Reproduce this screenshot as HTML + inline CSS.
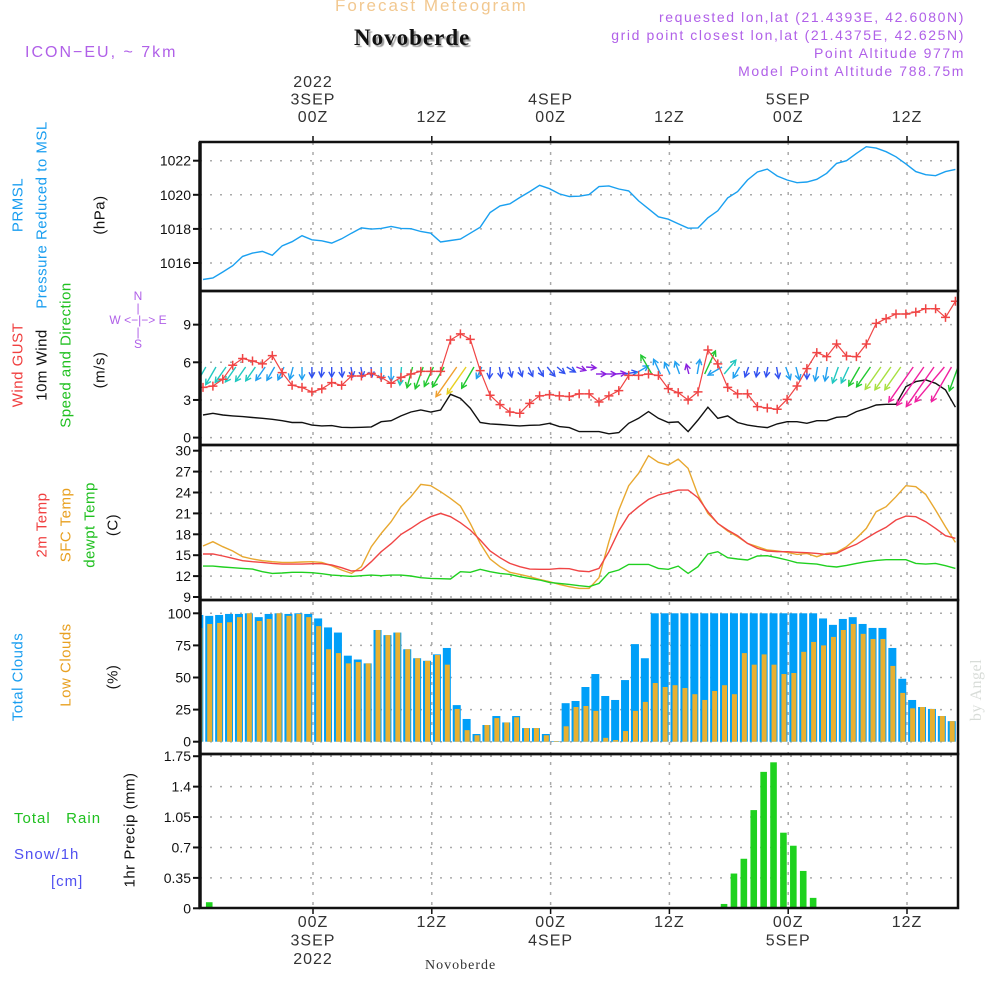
<!DOCTYPE html>
<html><head><meta charset="utf-8">
<style>
html,body{margin:0;padding:0;background:#fff;}
#wrap{position:relative;width:1000px;height:1000px;overflow:hidden;font-family:"Liberation Sans",sans-serif;}
.t{position:absolute;white-space:nowrap;}
.rot{position:absolute;white-space:nowrap;transform:translate(-50%,-50%) rotate(-90deg);font-size:15px;letter-spacing:0.5px;}
</style></head>
<body>
<div id="wrap">
<div class="t" style="left:335px;top:-4px;font-size:17px;color:#f2c890;letter-spacing:2px;">Forecast Meteogram</div>
<div class="t" style="left:354px;top:25px;font-size:23px;font-weight:bold;font-family:'Liberation Serif',serif;color:#111;letter-spacing:1px;text-shadow:2px 2px 1px #999;">Novoberde</div>
<div class="t" style="left:25px;top:44px;font-size:16px;color:#b060e8;letter-spacing:2px;">ICON−EU, ~ 7km</div>
<div class="t" style="right:35px;top:9px;font-size:14px;color:#b060e8;letter-spacing:1.6px;">requested lon,lat (21.4393E, 42.6080N)</div>
<div class="t" style="right:35px;top:27px;font-size:14px;color:#b060e8;letter-spacing:1.6px;">grid point closest lon,lat (21.4375E, 42.625N)</div>
<div class="t" style="right:35px;top:45px;font-size:14px;color:#b060e8;letter-spacing:1.6px;">Point Altitude 977m</div>
<div class="t" style="right:35px;top:63px;font-size:14px;color:#b060e8;letter-spacing:1.6px;">Model Point Altitude 788.75m</div>

<div class="rot" style="left:18px;top:205px;color:#1a9ef0;">PRMSL</div>
<div class="rot" style="left:42px;top:215px;color:#1a9ef0;">Pressure Reduced to MSL</div>
<div class="rot" style="left:100px;top:215px;color:#111;">(hPa)</div>

<div class="rot" style="left:18px;top:365px;color:#f04040;">Wind GUST</div>
<div class="rot" style="left:42px;top:365px;color:#111;">10m Wind</div>
<div class="rot" style="left:66px;top:355px;color:#20c020;">Speed and Direction</div>
<div class="rot" style="left:100px;top:370px;color:#111;">(m/s)</div>
<div class="t" style="left:88px;top:290px;font-size:12px;color:#b060e8;line-height:12px;text-align:center;width:100px;">N<br>|<br>W &lt;−|−&gt; E<br>|<br>S</div>

<div class="rot" style="left:42px;top:525px;color:#f04040;">2m Temp</div>
<div class="rot" style="left:66px;top:525px;color:#e8a020;">SFC Temp</div>
<div class="rot" style="left:90px;top:525px;color:#20c020;">dewpt Temp</div>
<div class="rot" style="left:113px;top:525px;color:#111;">(C)</div>

<div class="rot" style="left:18px;top:677px;color:#1a9ef0;">Total Clouds</div>
<div class="rot" style="left:66px;top:665px;color:#e8a020;">Low Clouds</div>
<div class="rot" style="left:113px;top:677px;color:#111;">(%)</div>

<div class="t" style="left:14px;top:810px;font-size:15px;color:#20c020;letter-spacing:1px;">Total&nbsp;&nbsp;&nbsp;Rain</div>
<div class="t" style="left:14px;top:846px;font-size:15px;color:#5050f0;letter-spacing:1px;">Snow/1h</div>
<div class="t" style="left:51px;top:873px;font-size:15px;color:#5050f0;letter-spacing:1px;">[cm]</div>
<div class="rot" style="left:130px;top:830px;color:#111;">1hr Precip (mm)</div>

<div class="t" style="left:425px;top:958px;font-size:14px;font-family:'Liberation Serif',serif;color:#333;letter-spacing:1px;">Novoberde</div>
<div class="rot" style="left:977px;top:690px;color:#d8dcd8;font-family:'Liberation Serif',serif;font-size:16px;">by Angel</div>

<svg id="chart" width="1000" height="1000" style="position:absolute;left:0;top:0;" xmlns="http://www.w3.org/2000/svg"></svg>
</div>
<script>
const pressure=[1015.03,1015.12,1015.47,1015.84,1016.39,1016.58,1016.68,1016.45,1017.01,1017.25,1017.6,1017.36,1017.3,1017.17,1017.42,1017.75,1018.06,1017.99,1018.03,1018.14,1018.03,1018.01,1017.85,1017.75,1017.23,1017.32,1017.4,1017.75,1018.1,1018.96,1019.35,1019.47,1019.84,1020.19,1020.56,1020.36,1020.05,1019.9,1019.92,1020.01,1020.48,1020.52,1020.34,1020.23,1019.64,1019.18,1018.71,1018.57,1018.3,1018.04,1018.06,1018.65,1019.06,1019.82,1020.19,1020.87,1021.34,1021.51,1021.1,1020.87,1020.71,1020.75,1020.91,1021.26,1021.84,1022.0,1022.43,1022.82,1022.74,1022.53,1022.23,1021.81,1021.36,1021.18,1021.12,1021.36,1021.49];
const gust=[4.0,4.1,4.65,5.76,6.3,6.1,5.87,6.53,5.18,4.17,4.0,3.64,3.88,4.38,4.17,4.91,4.91,5.12,4.8,4.33,4.8,5.07,5.28,5.28,5.28,7.78,8.26,7.83,5.34,3.37,2.63,2.04,1.94,2.73,3.32,3.42,3.32,3.27,3.48,3.48,2.84,3.32,3.74,4.96,4.96,5.07,4.96,3.9,3.58,3.0,3.64,6.98,5.87,4.0,3.48,3.48,2.47,2.36,2.26,3.05,4.11,5.5,6.77,6.45,7.46,6.5,6.45,7.46,9.1,9.48,9.85,9.85,10.0,10.27,10.27,9.58,10.86];
const windSpd=[1.8,1.94,1.8,1.73,1.67,1.6,1.54,1.46,1.35,1.2,1.2,1.0,0.93,0.96,0.82,0.8,0.82,0.85,1.27,1.35,1.73,2.04,2.2,2.04,2.2,3.45,3.13,2.34,1.2,1.09,1.04,0.98,0.93,0.98,1.0,1.14,0.88,0.8,0.48,0.48,0.48,0.3,0.4,1.14,1.54,2.07,1.54,1.2,1.25,0.48,1.4,2.42,1.54,1.73,1.2,1.0,0.88,0.8,1.09,1.27,1.27,1.14,1.35,1.35,1.62,1.67,2.07,2.31,2.6,2.65,2.65,4.06,4.46,4.6,4.33,3.8,2.42];
const windDir=[210,210,215,215,215,215,215,210,205,195,180,180,185,180,175,170,170,175,180,180,185,195,200,205,210,215,215,210,205,185,170,165,160,155,150,140,130,120,110,95,90,90,85,80,60,330,335,335,340,345,10,25,240,40,210,200,190,190,170,160,165,180,190,190,200,205,210,215,215,215,215,215,215,215,220,210,200];
const t2m=[15.17,15.17,14.88,14.55,14.21,14.07,13.97,13.83,13.73,13.73,13.73,13.78,13.78,13.59,13.21,12.73,12.82,14.07,15.5,16.65,17.99,18.85,19.8,20.53,21.0,20.53,19.67,18.6,17.18,15.6,14.64,13.83,13.35,13.0,12.97,12.97,13.1,13.06,12.73,12.63,13.11,15.5,18.47,20.77,21.96,23.01,23.64,23.97,24.35,24.35,23.25,21.24,19.57,18.61,17.8,16.7,15.98,15.6,15.5,15.5,15.41,15.36,15.26,15.12,15.26,15.98,16.56,17.42,18.28,19.0,20.05,20.62,20.53,19.81,18.85,17.8,17.42];
const tsfc=[16.32,16.94,16.22,15.6,14.78,14.45,14.21,14.07,13.97,13.97,14.02,14.07,13.97,13.49,12.87,12.39,13.35,16.22,18.13,19.81,21.96,23.4,25.17,24.98,24.11,23.16,22.06,19.57,16.7,14.45,13.35,12.54,12.25,11.91,11.53,11.2,10.81,10.48,10.24,10.24,11.77,16.94,21.48,24.98,26.75,29.28,28.33,27.94,28.8,27.46,23.64,21.0,19.57,18.47,17.66,16.7,16.22,15.74,15.6,15.41,15.12,15.26,14.78,15.26,15.41,16.22,17.42,18.85,21.24,21.96,23.4,24.98,24.83,23.73,21.48,19.09,16.84];
const dewpt=[13.44,13.44,13.3,13.21,13.11,13.01,12.63,12.39,12.44,12.54,12.54,12.49,12.34,12.15,12.06,11.96,12.06,12.15,12.06,12.15,12.15,12.01,11.77,11.67,11.63,11.58,12.63,12.54,12.97,12.63,12.39,12.25,11.91,11.67,11.44,11.1,10.96,10.81,10.62,10.48,10.96,12.49,12.87,13.68,13.68,13.68,13.11,12.97,13.44,12.39,13.35,15.17,15.5,14.64,14.45,14.31,14.88,14.93,14.64,14.31,13.92,13.83,13.73,13.44,13.3,13.54,13.83,14.07,14.26,14.35,14.35,14.35,13.83,13.73,13.83,13.49,13.11];
const cloudTotal=[98.7,98,98.7,99.5,99.5,100,97,99.5,100,99.5,100,99.5,96,89,85,67,64,61,87,83,85,72,65,63,68,73,28.5,17.7,6,13,20,15,20,10.6,10.6,6,0.5,30,31.7,42.6,52.7,35.6,32.5,48,76,65,100,100,100,100,100,100,100,100,100,100,100,100,100,100,100,100,100,96,91,95.6,97,91.7,88.6,88.6,73,49,32.5,27,25.5,20,16];
const cloudLow=[88.6,91.7,92.5,93,97,100,94,95.6,100,98,99.5,97,90,72,69,61,62,61,87,83,85,72,65,63,67.5,60,25.5,9,5,13,18.4,15,19,10.6,10.6,5,0.5,12,27,27.8,24,3,1.3,8.3,24,31,45.7,42.6,44,41.8,37,32.5,39.5,44,37,69,60,68,60,52.7,53.5,70,77.7,75,81.6,87,91.7,84,80,80,59,38,26,27,25.5,20,16];
const precip=[0,0.07,0,0,0,0,0,0,0,0,0,0,0,0,0,0,0,0,0,0,0,0,0,0,0,0,0,0,0,0,0,0,0,0,0,0,0,0,0,0,0,0,0,0,0,0,0,0,0,0,0.01,0,0,0.05,0.40,0.57,1.13,1.57,1.68,0.87,0.72,0.43,0.12,0,0,0,0,0,0,0,0,0,0,0,0,0,0];
const pressTicks=[1016,1018,1020,1022];
const windTicks=[0,3,6,9];
const tempTicks=[9,12,15,18,21,24,27,30];
const cloudTicks=[0,25,50,75,100];
const precipTicks=[0,0.35,0.7,1.05,1.4,1.75];
const timeHours=[0,12,24,36,48,60];
const topTimeLabels=[["2022","3SEP","00Z"],["12Z"],["4SEP","00Z"],["12Z"],["5SEP","00Z"],["12Z"]];
const botTimeLabels=[["00Z","3SEP","2022"],["12Z"],["00Z","4SEP"],["12Z"],["00Z","5SEP"],["12Z"]];

const NS="http://www.w3.org/2000/svg";
const svg=document.getElementById('chart');
const X0=200,X1=958;
function xs(t){return 203+9.9*t;}
function xh(h){return 313+h*9.9;}
function yP(v){return 160.7+(1022-v)*17.05;}
function yW(v){return 437.6-12.55*v;}
function yT(v){return 450.7+(30-v)*6.967;}
function yC(v){return 741.7-1.284*v;}
function yR(v){return 908.3-86.9*v;}
function mk(tag,attrs,parent){const e=document.createElementNS(NS,tag);for(const k in attrs)e.setAttribute(k,attrs[k]);(parent||svg).appendChild(e);return e;}
const panels=[{top:142,bot:291,ticks:pressTicks,y:yP,name:'pressure'},{top:291,bot:445,ticks:windTicks,y:yW,name:'wind'},{top:445,bot:600,ticks:tempTicks,y:yT,name:'temp'},{top:600,bot:754,ticks:cloudTicks,y:yC,name:'cloud'},{top:754,bot:908,ticks:precipTicks,y:yR,name:'precip'}];
const clip=mk('clipPath',{id:'pc'});mk('rect',{x:X0,y:142,width:X1-X0,height:766},clip);
const gridG=mk('g',{});


panels.forEach(p=>{
  p.ticks.forEach(v=>{
    const yy=p.y(v);
    const gl=mk('line',{x1:X0,x2:X1,y1:yy,y2:yy,stroke:'#aaa','stroke-width':1.5,'stroke-dasharray':'2 8'},gridG);
    
    
    const tk=mk('line',{x1:X0-7,x2:X0,y1:yy,y2:yy,stroke:'#111','stroke-width':2},gridG);
    
    
    const lb=mk('text',{x:X0-9,y:yy+5,'text-anchor':'end','font-size':14,'font-family':'Liberation Sans, sans-serif',fill:'#111'},gridG);
    lb.textContent=String(v);
    
    
  });
});
timeHours.forEach((h,i)=>{
  const xx=xh(h);
  const vl=mk('line',{x1:xx,x2:xx,y1:142,y2:908,stroke:'#aaa','stroke-width':1.5,'stroke-dasharray':'3 7'},gridG);
  
  
  const tl=topTimeLabels[i];
  tl.forEach((s,j)=>{const t=mk('text',{x:xx,y:122-(tl.length-1-j)*17.5,'text-anchor':'middle','font-size':16,'font-family':'Liberation Sans, sans-serif',fill:'#333','letter-spacing':1},gridG);t.textContent=s;
    
    });
  botTimeLabels[i].forEach((s,j)=>{const t=mk('text',{x:xx,y:927+j*18.5,'text-anchor':'middle','font-size':16,'font-family':'Liberation Sans, sans-serif',fill:'#333','letter-spacing':1},gridG);t.textContent=s;
    
    });
  mk('line',{x1:xx,x2:xx,y1:136,y2:142,stroke:'#111','stroke-width':1.5},gridG);
  mk('line',{x1:xx,x2:xx,y1:908,y2:914,stroke:'#111','stroke-width':1.5},gridG);
});
const dg=mk('g',{'clip-path':'url(#pc)'});


function line(arr,yf,color,name,w){const pts=arr.map((v,i)=>xs(i).toFixed(1)+','+yf(v).toFixed(1)).join(' ');const e=mk('polyline',{points:pts,fill:'none',stroke:color,'stroke-width':w||1.4},dg);
  
  return e;}
line(pressure,yP,'#1aa0f0','pressure-line');
cloudTotal.forEach((v,i)=>{const cx=xs(i-0.37);const b=mk('rect',{x:cx-4,y:yC(v),width:8,height:yC(0)-yC(v),fill:'#009ff8'},dg);
  
  });
cloudLow.forEach((v,i)=>{const cx=xs(i-0.37);const b=mk('rect',{x:cx-2,y:yC(v),width:5,height:yC(0)-yC(v),fill:'#e8b030'},dg);
  
  });
precip.forEach((v,i)=>{if(v<=0)return;const cx=xs(i-0.37);const b=mk('rect',{x:cx-3.3,y:yR(v),width:6.6,height:yR(0)-yR(v),fill:'#1ed21e'},dg);
  
  });
mk('line',{x1:X0,x2:X1,y1:908,y2:908,stroke:'#111','stroke-width':1,'stroke-dasharray':'6 3'},dg);
line(tsfc,yT,'#e8a830','sfc-temp-line');
line(t2m,yT,'#f04545','t2m-line');
line(dewpt,yT,'#20d020','dewpt-line');
line(windSpd,yW,'#111','wind-speed-line');
function spdColor(s){if(s<0.7)return '#8a20e0';if(s<1.2)return '#3050f0';if(s<1.6)return '#20a0f0';if(s<2.0)return '#20c8c0';if(s<2.5)return '#20c830';if(s<2.8)return '#a8e040';if(s<3.2)return '#e8d020';if(s<3.6)return '#f0a030';return '#f020a0';}
windDir.forEach((d,i)=>{const s=windSpd[i];const L=Math.max(10,10.5*s);const a=d*Math.PI/180;const dx=Math.sin(a)*L,dy=-Math.cos(a)*L;
  const sx=xs(i)-dx*0.3, sy=(dy>=0?367:374);const ex=sx+dx,ey=sy+dy;
  const g=mk('g',{stroke:spdColor(s),'stroke-width':1.4,fill:'none'},dg);
  
  
  mk('line',{x1:sx,y1:sy,x2:ex,y2:ey},g);
  const h=6,ang=Math.atan2(dy,dx);
  mk('polyline',{points:`${ex-h*Math.cos(ang-0.5)},${ey-h*Math.sin(ang-0.5)} ${ex},${ey} ${ex-h*Math.cos(ang+0.5)},${ey-h*Math.sin(ang+0.5)}`},g);
});
line(gust,yW,'#f04545','gust-line',1.2);
gust.forEach((v,i)=>{const x=xs(i),y=yW(v);const g=mk('path',{d:`M${x-4.5} ${y}H${x+4.5}M${x} ${y-4.5}V${y+4.5}`,stroke:'#f04545','stroke-width':1.5},dg);
  
  });
panels.forEach(p=>{const r=mk('rect',{x:X0,y:p.top,width:X1-X0,height:p.bot-p.top,fill:'none',stroke:'#111','stroke-width':2.5});
  
  });
mk('line',{x1:X0,x2:X0,y1:142,y2:908,stroke:'#111','stroke-width':3.5});
</script>
</body></html>
